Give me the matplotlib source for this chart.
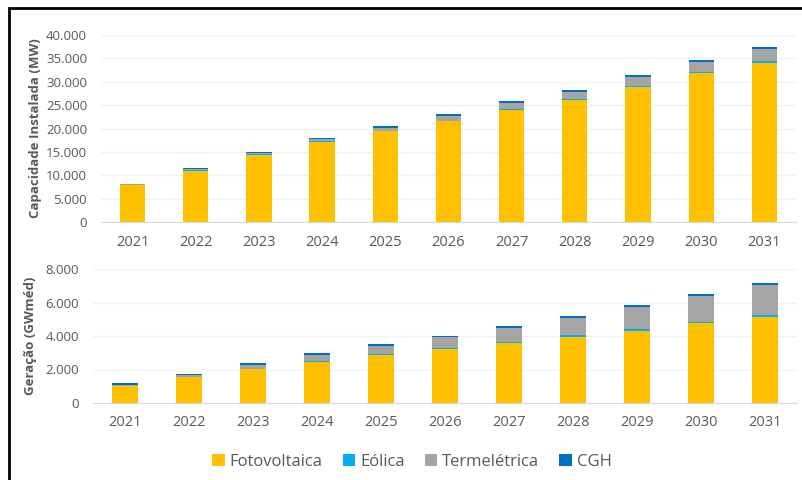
import matplotlib
matplotlib.use("Agg")
import matplotlib.pyplot as plt
from matplotlib.ticker import FuncFormatter
from matplotlib.patches import Patch, Rectangle
import numpy as np

# dados
anos = ["2021", "2022", "2023", "2024", "2025", "2026", "2027", "2028", "2029", "2030", "2031"]
series = ["Fotovoltaica", "Eólica", "Termelétrica", "CGH"]
cores = ["#FFC000", "#00B0F0", "#A5A5A5", "#0070C0"]

# capacidade instalada (MW)
cap_foto = [7900, 11000, 14400, 17200, 19400, 21500, 24000, 26100, 28800, 31800, 34000]
cap_eol = [50, 60, 80, 100, 120, 150, 180, 200, 250, 300, 350]
cap_term = [100, 200, 300, 400, 600, 1000, 1200, 1600, 1900, 2200, 2600]
cap_cgh = [150, 250, 250, 300, 350, 400, 400, 400, 400, 450, 450]

# geração (GWméd)
ger_foto = [1020, 1540, 2010, 2460, 2870, 3230, 3580, 3960, 4310, 4750, 5110]
ger_eol = [20, 30, 30, 40, 50, 50, 70, 80, 80, 90, 120]
ger_term = [60, 80, 230, 380, 510, 660, 820, 1030, 1330, 1570, 1790]
ger_cgh = [70, 70, 90, 90, 100, 80, 110, 110, 110, 110, 120]

cinza = "#595959"
plt.rcParams["font.family"] = ["Open Sans", "DejaVu Sans"]

fig = plt.figure(figsize=(8.03, 4.8), dpi=100)
W, H = 803, 480


def px_axes(left, top, right, bottom):
    return fig.add_axes([left / W, 1 - bottom / H, (right - left) / W, (bottom - top) / H])


def milhar(v, pos):
    return f"{int(v):,}".replace(",", ".")


def empilha(ax, dados, ymax, step, ylabel):
    x = np.arange(len(anos))
    base = np.zeros(len(anos))
    for vals, cor in zip(dados, cores):
        ax.bar(x, vals, 0.4, bottom=base, color=cor, zorder=3)
        base += np.array(vals)
    ax.set_xlim(-0.5, len(anos) - 0.5)
    ax.set_ylim(0, ymax)
    ax.set_yticks(np.arange(0, ymax + 1, step))
    ax.yaxis.set_major_formatter(FuncFormatter(milhar))
    ax.set_xticks(x)
    ax.set_xticklabels(anos)
    ax.grid(axis="y", color="#F2F2F2", linewidth=1, zorder=0)
    for s in ["top", "right", "left"]:
        ax.spines[s].set_visible(False)
    ax.spines["bottom"].set_color("#D9D9D9")
    ax.tick_params(axis="both", length=0, colors=cinza)
    ax.tick_params(axis="y", labelsize=9.5, pad=10)
    ax.tick_params(axis="x", labelsize=10.5, pad=9)
    ax.set_ylabel(ylabel, color=cinza, fontsize=9.5, fontweight="bold")


ax1 = px_axes(101, 35, 796, 222)
empilha(ax1, [cap_foto, cap_eol, cap_term, cap_cgh], 40000, 5000, "Capacidade Instalada (MW)")
ax1.yaxis.set_label_coords(-0.085, 0.5)

ax2 = px_axes(93, 269, 797, 403)
empilha(ax2, [ger_foto, ger_eol, ger_term, ger_cgh], 8000, 2000, "Geração (GWméd)")
ax2.yaxis.set_label_coords(-0.08, 0.5)

handles = [Patch(facecolor=c, label=s) for s, c in zip(series, cores)]
fig.legend(handles=handles, loc="center", bbox_to_anchor=(412 / W, 1 - 462 / H), ncol=4,
           frameon=False, fontsize=12, handlelength=0.75, handleheight=0.75,
           handletextpad=0.3, columnspacing=1.2, labelcolor=cinza)

# moldura da figura
fig.patches.append(Rectangle((9 / W, -0.1), 1.1, 1 - 8 / H + 0.1, transform=fig.transFigure,
                             fill=False, edgecolor="black", linewidth=2))

fig.savefig("out.png", dpi=100)
